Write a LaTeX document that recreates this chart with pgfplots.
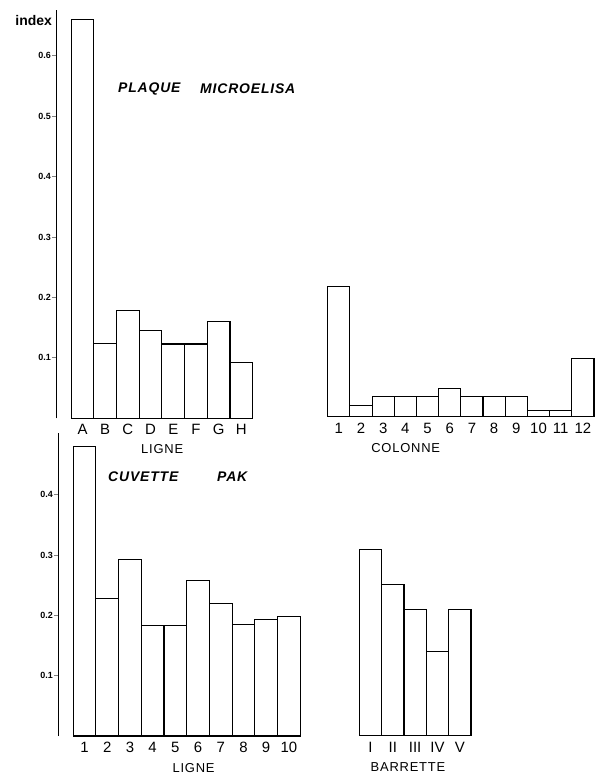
\documentclass[border=0pt]{standalone}
\usepackage{fontspec}
\setmainfont{Liberation Sans}
\usepackage{pgfplots}
\pgfplotsset{compat=1.18}

% values (index, 0.1 = 60.4 px)
\pgfplotstableread{
x v
0 0.660
1 0.124
2 0.178
3 0.146
4 0.123
5 0.123
6 0.160
7 0.093
}\plaqueligne
\pgfplotstableread{
x v
0 0.215
1 0.019
2 0.034
3 0.034
4 0.034
5 0.046
6 0.034
7 0.034
8 0.034
9 0.011
10 0.011
11 0.097
}\plaquecolonne
\pgfplotstableread{
x v
0 0.480
1 0.228
2 0.293
3 0.183
4 0.183
5 0.257
6 0.219
7 0.185
8 0.193
9 0.198
}\cuvetteligne
\pgfplotstableread{
x v
0 0.309
1 0.251
2 0.209
3 0.140
4 0.209
}\cuvettebarrette

\pgfplotsset{
  hist/.style={
    scale only axis, clip=false,
    ybar, bar width=1, ymin=0,
    axis x line*=bottom, x axis line style={draw=none},
    xtick=data, xtick style={draw=none},
    xticklabel style={font=\fontsize{15}{15}\selectfont, inner sep=2pt},
    xlabel style={font=\fontsize{13}{13}\selectfont\addfontfeature{LetterSpace=6}, anchor=north, inner sep=1pt, yshift=-7bp},
  },
  withy/.style={
    axis y line*=left, y axis line style={-, line width=1pt},
    ytick style={line width=0.8pt}, tick align=outside, major tick length=4bp,
    yticklabel style={font=\fontsize{9}{9}\selectfont\bfseries, inner sep=1pt},
  },
  noy/.style={axis y line=none},
  barst/.style={draw=black, fill=white, line width=1.1pt},
}
\tikzset{
  ttl/.style={anchor=west, inner sep=0pt, font=\fontsize{14}{14}\selectfont\bfseries\itshape\addfontfeature{LetterSpace=6}},
}

\begin{document}
\begin{tikzpicture}
\useasboundingbox (0,0) rectangle (595bp,775bp);

% PLAQUE MICROELISA, ligne
\begin{axis}[hist, withy,
  at={(56bp,356.7bp)}, anchor=south west,
  width=196.7bp, height=408.3bp,
  xmin=-1.167, xmax=7.5, ymax=0.676,
  xticklabels={A,B,C,D,E,F,G,H},
  ytick={0.1,0.2,0.3,0.4,0.5,0.6},
  yticklabels={0.1,0.2,0.3,0.4,0.5,0.6},
  xlabel={LIGNE}, xlabel style={at={(ticklabel cs:0.54)}, yshift=1bp},
]
\addplot[barst] table[x=x, y=v] {\plaqueligne};
\end{axis}

% PLAQUE MICROELISA, colonne
\begin{axis}[hist, noy,
  at={(327.7bp,358.3bp)}, anchor=south west,
  width=266.3bp, height=151bp,
  xmin=-0.5, xmax=11.5, ymax=0.25,
  xticklabels={1,2,3,4,5,6,7,8,9,10,11,12},
  xlabel={COLONNE}, xlabel style={at={(ticklabel cs:0.293)}},
]
\addplot[barst] table[x=x, y=v] {\plaquecolonne};
\end{axis}

% CUVETTE PAK, ligne
\begin{axis}[hist, withy,
  at={(58bp,39bp)}, anchor=south west,
  width=242.2bp, height=303bp,
  xmin=-1.167, xmax=9.5, ymax=0.502,
  xticklabels={1,2,3,4,5,6,7,8,9,10},
  ytick={0.1,0.2,0.3,0.4},
  yticklabels={0.1,0.2,0.3,0.4},
  xlabel={LIGNE}, xlabel style={at={(ticklabel cs:0.56)}, yshift=0bp},
]
\addplot[barst] table[x=x, y=v] {\cuvetteligne};
\end{axis}

% CUVETTE PAK, barrette
\begin{axis}[hist, noy,
  at={(359.3bp,39.3bp)}, anchor=south west,
  width=111.7bp, height=211.4bp,
  xmin=-0.5, xmax=4.5, ymax=0.35,
  xticklabels={I,II,III,IV,V},
  xlabel={BARRETTE}, xlabel style={at={(ticklabel cs:0.436)}, yshift=0bp},
]
\addplot[barst] table[x=x, y=v] {\cuvettebarrette};
\end{axis}

\node[ttl] at (118bp,686bp) {PLAQUE};
\node[ttl] at (200bp,686bp) {MICROELISA};
\node[ttl] at (108bp,298.3bp) {CUVETTE};
\node[ttl] at (217bp,298.3bp) {PAK};
\node[anchor=east, font=\fontsize{14}{14}\selectfont\bfseries, inner sep=1pt] at (53bp,754bp) {index};
\end{tikzpicture}
\end{document}
